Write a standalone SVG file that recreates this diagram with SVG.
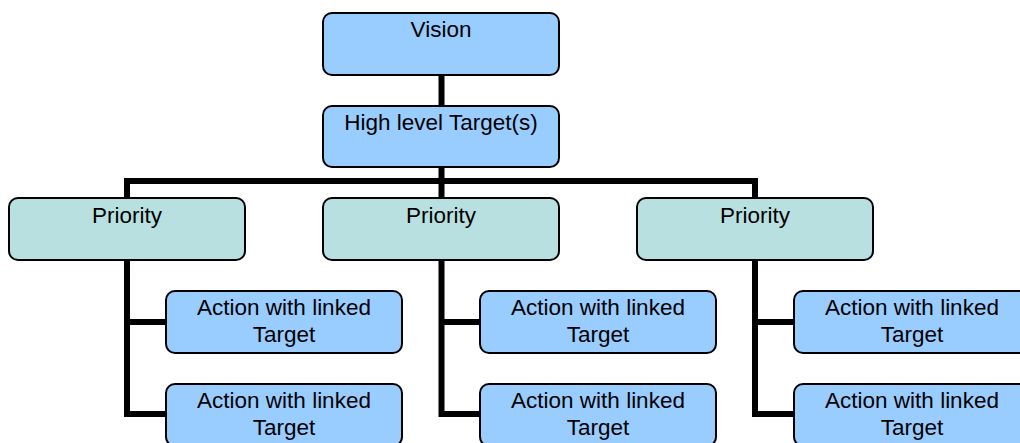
<svg xmlns="http://www.w3.org/2000/svg" width="1020" height="443" viewBox="0 0 1020 443">
<style>
.box{stroke:#000;stroke-width:2}
.blue{fill:#99CCFF}
.teal{fill:#B9E0E1}
.t{font-family:"Liberation Sans",Arial,sans-serif;font-size:22.5px;fill:#000;text-anchor:middle}
.c{fill:none;stroke:#000;stroke-width:6;stroke-linejoin:miter;stroke-linecap:butt}
</style>
<rect width="1020" height="443" fill="#fff"/>
<g id="connectors">
<path class="c" d="M441.5 75V198"/>
<path class="c" d="M127 198V181H755V198"/>
<path class="c" d="M127 260V414H166M127 322H166"/>
<path class="c" d="M441.5 260V414H480M441.5 322H480"/>
<path class="c" d="M755 260V414H794M755 322H794"/>
</g>
<g id="vision"><rect class="box blue" x="323" y="13" width="236" height="62" rx="9"/><text class="t" x="441" y="37">Vision</text></g>
<g id="high-level"><rect class="box blue" x="323" y="106" width="236" height="61" rx="9"/><text class="t" x="441" y="130">High level Target(s)</text></g>
<g id="priority1"><rect class="box teal" x="9" y="198" width="236" height="62" rx="9"/><text class="t" x="127" y="223">Priority</text></g>
<g id="priority2"><rect class="box teal" x="323" y="198" width="236" height="62" rx="9"/><text class="t" x="441" y="223">Priority</text></g>
<g id="priority3"><rect class="box teal" x="637" y="198" width="236" height="62" rx="9"/><text class="t" x="755" y="223">Priority</text></g>
<g id="action1a"><rect class="box blue" x="166" y="291" width="236" height="62" rx="9"/><text class="t" x="284" y="315">Action with linked<tspan x="284" dy="26.7">Target</tspan></text></g>
<g id="action1b"><rect class="box blue" x="166" y="384" width="236" height="62" rx="9"/><text class="t" x="284" y="408">Action with linked<tspan x="284" dy="26.7">Target</tspan></text></g>
<g id="action2a"><rect class="box blue" x="480" y="291" width="236" height="62" rx="9"/><text class="t" x="598" y="315">Action with linked<tspan x="598" dy="26.7">Target</tspan></text></g>
<g id="action2b"><rect class="box blue" x="480" y="384" width="236" height="62" rx="9"/><text class="t" x="598" y="408">Action with linked<tspan x="598" dy="26.7">Target</tspan></text></g>
<g id="action3a"><rect class="box blue" x="794" y="291" width="236" height="62" rx="9"/><text class="t" x="912" y="315">Action with linked<tspan x="912" dy="26.7">Target</tspan></text></g>
<g id="action3b"><rect class="box blue" x="794" y="384" width="236" height="62" rx="9"/><text class="t" x="912" y="408">Action with linked<tspan x="912" dy="26.7">Target</tspan></text></g>
</svg>
